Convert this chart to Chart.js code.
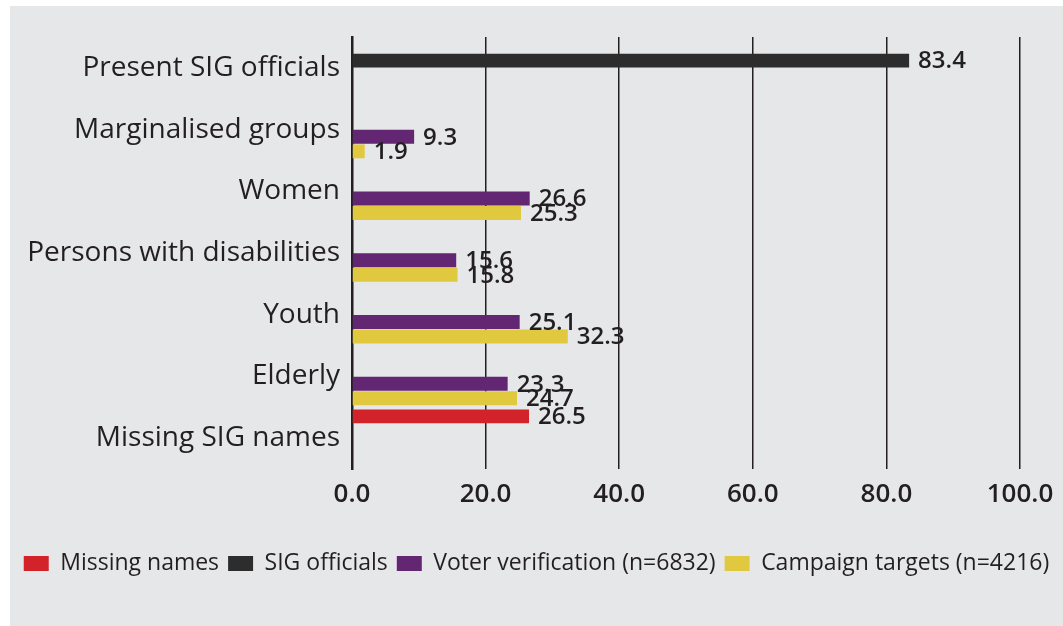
<!DOCTYPE html>
<html>
<head>
<meta charset="utf-8">
<script src="https://cdn.jsdelivr.net/npm/chart.js@4.4.1/dist/chart.umd.min.js"></script>
<style>
  html, body { margin: 0; padding: 0; background: #ffffff; }
  #wrap {
    position: absolute; left: 10px; top: 6px;
    width: 1053px; height: 620px;
    background: #e6e7e9;
  }
</style>
</head>
<body>
<div id="wrap"><canvas id="chart"></canvas></div>
<script>
// categories, top to bottom
const categories = [
    "Present SIG officials",
    "Marginalised groups",
    "Women",
    "Persons with disabilities",
    "Youth",
    "Elderly",
    "Missing SIG names"
];

// series values (%)
const missingNames      = [null, null, null, null, null, null, 26.5];
const sigOfficials      = [83.4, null, null, null, null, null, null];
const voterVerification = [null, 9.3, 26.6, 15.6, 25.1, 23.3, null];
const campaignTargets   = [null, 1.9, 25.3, 15.8, 32.3, 24.7, null];

const xTicks = [0, 20, 40, 60, 80, 100];

const INK = "#231f20";
const FONT = "'Open Sans', 'Noto Sans', sans-serif";

// write each bar's value just past its end
const valueLabels = {
    id: "valueLabels",
    afterDatasetsDraw(chart) {
        const ctx = chart.ctx;
        ctx.save();
        ctx.font = "600 24px " + FONT;
        ctx.fillStyle = INK;
        ctx.textAlign = "left";
        ctx.textBaseline = "middle";
        chart.data.datasets.forEach((ds, i) => {
            const meta = chart.getDatasetMeta(i);
            meta.data.forEach((bar, j) => {
                const v = ds.data[j];
                if (v === null || v === undefined) return;
                ctx.fillText(v.toFixed(1), bar.x + 9, bar.y + 1);
            });
        });
        ctx.restore();
    }
};

new Chart(document.getElementById("chart").getContext("2d"), {
    type: "bar",
    data: {
        labels: categories,
        datasets: [
            { label: "Missing names", data: missingNames, backgroundColor: "#d2232a" },
            { label: "SIG officials", data: sigOfficials, backgroundColor: "#2d2d2d" },
            { label: "Voter verification (n=6832)", data: voterVerification, backgroundColor: "#622673" },
            { label: "Campaign targets (n=4216)", data: campaignTargets, backgroundColor: "#e1c93f" }
        ]
    },
    options: {
        indexAxis: "y",
        responsive: true,
        maintainAspectRatio: false,
        animation: false,
        categoryPercentage: 0.94,
        barPercentage: 0.96,
        layout: { padding: { top: 31, right: 0, bottom: 41, left: 0 } },
        scales: {
            x: {
                min: 0,
                max: 100,
                afterBuildTicks(scale) {
                    scale.ticks = xTicks.map(v => ({ value: v }));
                },
                // taller axis box leaves room above the legend,
                // right padding keeps room for the "100.0" label
                afterFit(scale) {
                    scale.height = 74;
                    scale.paddingRight = 43;
                },
                ticks: {
                    color: INK,
                    padding: 10,
                    font: { family: FONT, size: 26, weight: "600" },
                    callback: v => Number(v).toFixed(1)
                },
                grid: { color: INK, lineWidth: 1.5, drawTicks: false },
                border: { display: false }
            },
            y: {
                afterFit(scale) { scale.width = 342; },
                ticks: {
                    color: INK,
                    padding: 4,
                    font: { family: FONT, size: 28, weight: "400" }
                },
                grid: { display: false },
                border: { display: true, color: INK, width: 2.5 }
            }
        },
        plugins: {
            legend: {
                position: "bottom",
                labels: {
                    color: INK,
                    boxWidth: 25,
                    boxHeight: 15,
                    padding: 9,
                    font: { family: FONT, size: 23 }
                }
            },
            tooltip: { enabled: false }
        }
    },
    plugins: [valueLabels]
});
</script>
</body>
</html>
